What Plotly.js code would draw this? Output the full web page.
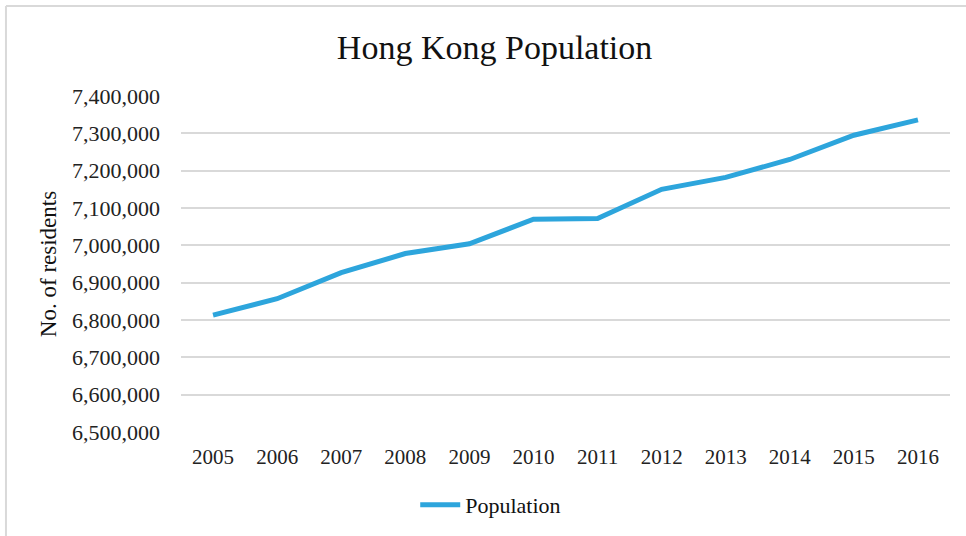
<!DOCTYPE html>
<html>
<head>
<meta charset="utf-8">
<script src="https://cdn.plot.ly/plotly-3.0.1.min.js"></script>
<style>
  html, body { margin: 0; padding: 0; background: #ffffff; }
  #chart { width: 966px; height: 536px; }
</style>
</head>
<body>
<div id="chart"></div>
<script>
const years = ['2005','2006','2007','2008','2009','2010','2011','2012','2013','2014','2015','2016'];
const population = [6813000, 6857000, 6927000, 6978000, 7004000, 7070000, 7072000, 7150000, 7182000, 7230000, 7295000, 7336000];
const yTicks = [6500000, 6600000, 6700000, 6800000, 6900000, 7000000, 7100000, 7200000, 7300000, 7400000];
const seriesName = 'Population';
const chartTitle = 'Hong Kong Population';
const yTitle = 'No. of residents';

const serif = '"Liberation Serif", "Times New Roman", serif';

const trace = {
  type: 'scatter',
  mode: 'lines',
  x: years,
  y: population,
  name: seriesName,
  line: { color: '#2da5dc', width: 5, shape: 'linear' },
  hoverinfo: 'x+y'
};

const layout = {
  width: 966,
  height: 536,
  paper_bgcolor: '#ffffff',
  plot_bgcolor: '#ffffff',
  margin: { l: 181, r: 16, t: 96, b: 104 },
  title: {
    text: chartTitle,
    font: { family: serif, size: 34, color: '#111111' },
    x: 0.512, xref: 'container', xanchor: 'center',
    y: 0.912, yref: 'container', yanchor: 'middle'
  },
  showlegend: true,
  legend: {
    orientation: 'h',
    x: 0.508, xref: 'container', xanchor: 'center',
    y: 0.058, yref: 'container', yanchor: 'middle',
    font: { family: serif, size: 22, color: '#111111' },
    itemwidth: 40
  },
  xaxis: {
    type: 'category',
    range: [-0.5, 11.5],
    showgrid: false,
    showline: false,
    zeroline: false,
    ticks: '',
    ticklabelstandoff: 10,
    tickfont: { family: serif, size: 21, color: '#222222' },
    fixedrange: true
  },
  yaxis: {
    range: [6500000, 7400000],
    tickvals: yTicks,
    tickformat: ',d',
    showgrid: true,
    gridcolor: '#d9d9d9',
    gridwidth: 2,
    zeroline: false,
    showline: false,
    ticks: '',
    ticklabelstandoff: 20,
    tickfont: { family: serif, size: 22, color: '#222222' },
    title: { text: yTitle, font: { family: serif, size: 23, color: '#111111' }, standoff: 8 },
    automargin: false,
    fixedrange: true
  },
  shapes: [
    { type: 'line', xref: 'paper', yref: 'paper', x0: -0.2276, x1: 1.03, y0: 1.268, y1: 1.268, line: { color: '#d9d9d9', width: 2 } },
    { type: 'line', xref: 'paper', yref: 'paper', x0: -0.2276, x1: -0.2276, y0: 1.268, y1: -0.32, line: { color: '#d9d9d9', width: 2 } }
  ]
};

Plotly.newPlot('chart', [trace], layout, { displayModeBar: false, staticPlot: false });
</script>
</body>
</html>
